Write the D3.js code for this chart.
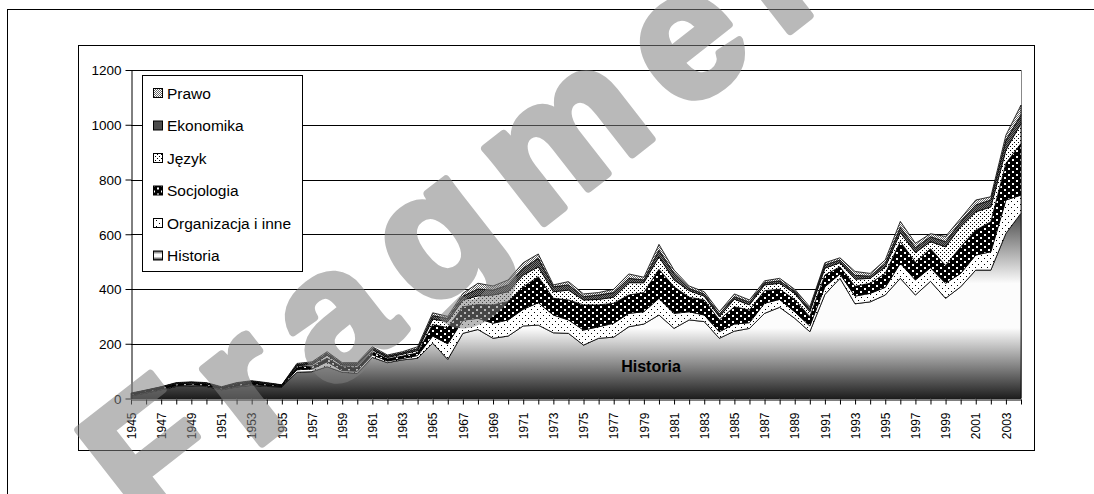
<!DOCTYPE html>
<html>
<head>
<meta charset="utf-8">
<script src="https://cdn.jsdelivr.net/npm/d3@7"></script>
<style>
  body { margin: 0; background: #fff; }
  svg { display: block; font-family: "Liberation Sans", Arial, sans-serif; }
</style>
</head>
<body>
<svg id="chart" width="1094" height="494"></svg>
<script>
// lata (kategorie)
var years = d3.range(1945, 2005);

// serie - wartosci
var historia = [10,20,32,44,46,44,32,42,48,44,42,96,98,116,96,92,150,131,141,147,
  202,143,238,252,220,228,265,268,240,238,195,220,224,262,272,305,256,287,281,220,
  246,256,311,333,293,244,380,439,346,353,378,439,378,428,366,408,469,469,603,677];
var organizacja = [2,3,3,3,4,3,3,3,4,3,2,9,10,18,6,8,10,6,5,10,
  26,57,48,41,55,59,61,82,65,49,55,42,51,49,45,61,55,30,24,24,
  26,21,37,29,24,21,28,16,28,31,28,55,55,50,55,49,55,67,122,66];
var socjologia = [4,5,5,6,6,6,4,7,7,6,3,10,10,13,14,14,11,8,9,10,
  42,59,49,50,67,67,82,95,61,73,92,80,73,67,70,106,97,53,55,43,
  63,46,46,37,45,34,43,26,36,37,51,79,65,69,65,97,91,110,134,189];
var jezyk = [1,1,1,2,2,2,1,2,2,2,1,5,6,11,6,7,7,5,7,8,
  20,22,25,32,36,36,43,36,24,36,18,20,22,45,36,46,25,24,14,12,
  28,19,21,22,22,18,25,15,26,18,23,33,35,26,68,74,67,54,49,73];
var ekonomika = [1,1,1,1,1,1,1,2,2,1,1,4,6,7,5,6,6,5,5,7,
  13,11,14,25,18,25,25,31,18,19,12,16,17,16,10,24,24,8,8,9,
  9,10,8,9,8,9,12,10,14,8,13,19,18,18,19,18,25,25,36,31];
var prawo = [2,1,1,2,2,2,2,2,2,2,1,4,4,6,4,4,5,4,4,7,
  10,8,10,21,15,18,20,16,7,12,10,9,12,16,10,21,12,9,8,9,
  10,8,7,9,7,9,8,8,14,10,13,22,16,11,19,12,18,12,18,36];

var seriesNames = ["Historia", "Organizacja i inne", "Socjologia", "Język", "Ekonomika", "Prawo"];
var seriesValues = [historia, organizacja, socjologia, jezyk, ekonomika, prawo];
var yTicks = [0, 200, 400, 600, 800, 1000, 1200];

var rows = years.map(function (yr, i) {
  var r = { year: yr };
  seriesNames.forEach(function (n, k) { r[n] = seriesValues[k][i]; });
  return r;
});

var svg = d3.select("#chart");
var plotL = 131, plotR = 1021, plotT = 70, plotB = 398.5;

var x = d3.scaleLinear().domain([1945, 2004]).range([plotL, plotR]);
var y = d3.scaleLinear().domain([0, 1200]).range([plotB, plotT]);

// wzory wypelnien
var defs = svg.append("defs");
var grad = defs.append("linearGradient").attr("id", "g-hist")
  .attr("x1", 0).attr("y1", 0).attr("x2", 0).attr("y2", 1);
grad.append("stop").attr("offset", 0).attr("stop-color", "#4a4a4a");
grad.append("stop").attr("offset", 0.38).attr("stop-color", "#fcfcfc");
grad.append("stop").attr("offset", 0.62).attr("stop-color", "#fcfcfc");
grad.append("stop").attr("offset", 1).attr("stop-color", "#1e1e1e");

function pattern(id, w, h, bg, dots, col) {
  var p = defs.append("pattern").attr("id", id).attr("patternUnits", "userSpaceOnUse")
    .attr("width", w).attr("height", h);
  p.append("rect").attr("width", w).attr("height", h).attr("fill", bg);
  dots.forEach(function (d) {
    p.append("rect").attr("x", d[0]).attr("y", d[1]).attr("width", d[2]).attr("height", d[3]).attr("fill", col);
  });
}
pattern("p-org", 6, 6, "#fff", [[0, 0, 1, 1], [3, 3, 1, 1]], "#000");
pattern("p-soc", 8, 6, "#000", [[0, 0, 2, 2], [4, 3, 2, 2]], "#fff");
pattern("p-jez", 4, 4, "#fff", [[0, 0, 1, 1], [2, 2, 1, 1]], "#000");
pattern("p-eko", 2, 2, "#777", [[0, 0, 1, 1], [1, 1, 1, 1]], "#222");
pattern("p-pra", 2, 2, "#fff", [[0, 0, 1, 1], [1, 1, 1, 1]], "#666");

var fills = {
  "Historia": "url(#g-hist)",
  "Organizacja i inne": "url(#p-org)",
  "Socjologia": "url(#p-soc)",
  "Język": "url(#p-jez)",
  "Ekonomika": "url(#p-eko)",
  "Prawo": "url(#p-pra)"
};

// ramki
svg.append("rect").attr("x", 7.5).attr("y", 9.5).attr("width", 1200).attr("height", 600)
  .attr("fill", "none").attr("stroke", "#000");
svg.append("rect").attr("x", 78.5).attr("y", 45.5).attr("width", 956).attr("height", 405)
  .attr("fill", "none").attr("stroke", "#000");

// siatka
svg.append("g").selectAll("line").data(yTicks.slice(1)).join("line")
  .attr("x1", plotL).attr("x2", plotR)
  .attr("y1", function (d) { return Math.round(y(d)) + 0.5; })
  .attr("y2", function (d) { return Math.round(y(d)) + 0.5; })
  .attr("stroke", "#000").attr("stroke-width", 1);
svg.append("line").attr("x1", plotR + 0.5).attr("x2", plotR + 0.5).attr("y1", plotT).attr("y2", plotB)
  .attr("stroke", "#888");

// warstwy
var stack = d3.stack().keys(seriesNames);
var layers = stack(rows);
var area = d3.area()
  .x(function (d) { return x(d.data.year); })
  .y0(function (d) { return y(d[0]); })
  .y1(function (d) { return y(d[1]); });

svg.append("g").selectAll("path").data(layers).join("path")
  .attr("d", area)
  .attr("fill", function (d) { return fills[d.key]; })
  .attr("stroke", "#000").attr("stroke-width", 0.8).attr("stroke-linejoin", "round");

// osie
var yAxis = d3.axisLeft(y).tickValues(yTicks).tickSize(6).tickSizeOuter(0).tickFormat(d3.format("d"));
var gy = svg.append("g").attr("transform", "translate(" + (plotL + 0.5) + ",0)").call(yAxis);
gy.select(".domain").attr("stroke", "#000");
gy.selectAll("text").attr("font-size", "13.5px").attr("fill", "#000").attr("x", -10).attr("dy", "0.36em");

var xAxis = d3.axisBottom(x).tickValues(years).tickSize(5).tickSizeOuter(0)
  .tickFormat(function (d) { return (d - 1945) % 2 === 0 ? d : ""; });
var gx = svg.append("g").attr("transform", "translate(0," + (Math.round(plotB) + 0.5) + ")").call(xAxis);
gx.select(".domain").attr("stroke", "#000");
gx.selectAll("text").attr("font-size", "12px").attr("fill", "#000")
  .attr("transform", "rotate(-90)").attr("text-anchor", "end")
  .attr("x", -13).attr("y", 0).attr("dy", "0.35em");

// etykieta
svg.append("text").attr("x", 651).attr("y", 372).attr("text-anchor", "middle")
  .attr("font-size", "16px").attr("font-weight", "bold").text("Historia");

// legenda
var leg = svg.append("g");
leg.append("rect").attr("x", 142.5).attr("y", 75.5).attr("width", 160).attr("height", 196)
  .attr("fill", "#fff").attr("stroke", "#000");
var legOrder = seriesNames.slice().reverse();
var li = leg.selectAll("g.item").data(legOrder).join("g").attr("class", "item")
  .attr("transform", function (d, i) { return "translate(153," + (93 + i * 32.5) + ")"; });
li.append("rect").attr("x", 0.5).attr("y", -4.5).attr("width", 9).attr("height", 9)
  .attr("fill", function (d) { return fills[d]; }).attr("stroke", "#000");
li.append("text").attr("x", 14).attr("y", 0).attr("dy", "0.36em")
  .attr("font-size", "15.5px").text(function (d) { return d; });

// znak wodny
svg.append("g").attr("opacity", 0.55)
  .append("text").attr("transform", "translate(145,535) rotate(-38)")
  .attr("font-size", "180px").attr("font-weight", "bold").attr("letter-spacing", "26px")
  .attr("fill", "#808080").attr("stroke", "#808080").attr("stroke-width", 8).attr("stroke-linejoin", "round")
  .text("Fragment");
</script>
</body>
</html>
